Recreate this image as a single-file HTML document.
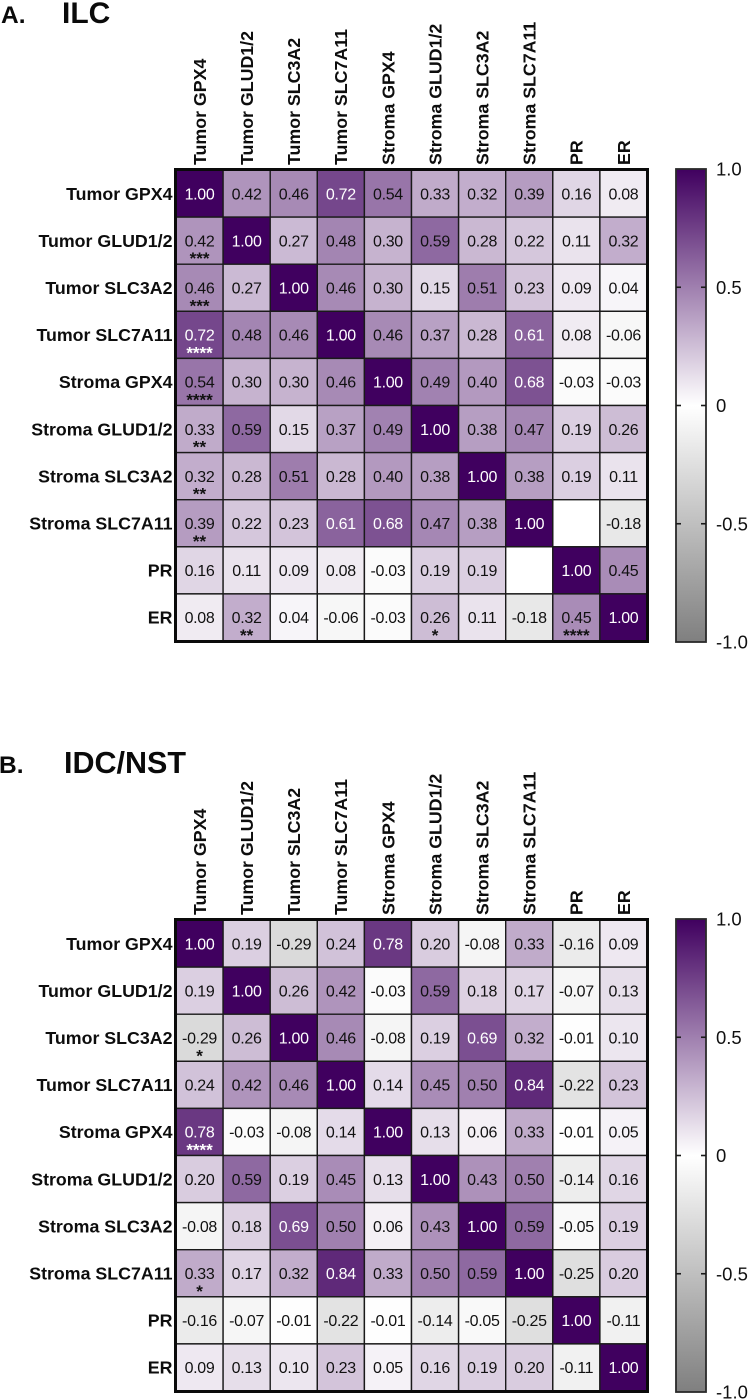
<!DOCTYPE html>
<html>
<head>
<meta charset="utf-8">
<style>
html,body{margin:0;padding:0;background:#fff;}
body{width:750px;height:1399px;overflow:hidden;}
svg{display:block;font-family:"Liberation Sans",Arial,sans-serif;filter:blur(0.3px);}
</style>
</head>
<body>
<svg id="figure" width="750" height="1399" viewBox="0 0 750 1399" xmlns="http://www.w3.org/2000/svg">
  <defs>
    <linearGradient id="cbar-gradient" x1="0" y1="0" x2="0" y2="1">
      <stop offset="0" stop-color="#40005f"/>
      <stop offset="0.5" stop-color="#ffffff"/>
      <stop offset="1" stop-color="#7f7f7f"/>
    </linearGradient>
  </defs>
</svg>
<script>
const labels = ["Tumor GPX4","Tumor GLUD1/2","Tumor SLC3A2","Tumor SLC7A11","Stroma GPX4","Stroma GLUD1/2","Stroma SLC3A2","Stroma SLC7A11","PR","ER"];

const ilcValues = [
  [1.00,0.42,0.46,0.72,0.54,0.33,0.32,0.39,0.16,0.08],
  [0.42,1.00,0.27,0.48,0.30,0.59,0.28,0.22,0.11,0.32],
  [0.46,0.27,1.00,0.46,0.30,0.15,0.51,0.23,0.09,0.04],
  [0.72,0.48,0.46,1.00,0.46,0.37,0.28,0.61,0.08,-0.06],
  [0.54,0.30,0.30,0.46,1.00,0.49,0.40,0.68,-0.03,-0.03],
  [0.33,0.59,0.15,0.37,0.49,1.00,0.38,0.47,0.19,0.26],
  [0.32,0.28,0.51,0.28,0.40,0.38,1.00,0.38,0.19,0.11],
  [0.39,0.22,0.23,0.61,0.68,0.47,0.38,1.00,null,-0.18],
  [0.16,0.11,0.09,0.08,-0.03,0.19,0.19,null,1.00,0.45],
  [0.08,0.32,0.04,-0.06,-0.03,0.26,0.11,-0.18,0.45,1.00]
];
const ilcStars = [
  ["","","","","","","","","",""],
  ["***","","","","","","","","",""],
  ["***","","","","","","","","",""],
  ["****","","","","","","","","",""],
  ["****","","","","","","","","",""],
  ["**","","","","","","","","",""],
  ["**","","","","","","","","",""],
  ["**","","","","","","","","",""],
  ["","","","","","","","","",""],
  ["","**","","","","*","","","****",""]
];
const idcValues = [
  [1.00,0.19,-0.29,0.24,0.78,0.20,-0.08,0.33,-0.16,0.09],
  [0.19,1.00,0.26,0.42,-0.03,0.59,0.18,0.17,-0.07,0.13],
  [-0.29,0.26,1.00,0.46,-0.08,0.19,0.69,0.32,-0.01,0.10],
  [0.24,0.42,0.46,1.00,0.14,0.45,0.50,0.84,-0.22,0.23],
  [0.78,-0.03,-0.08,0.14,1.00,0.13,0.06,0.33,-0.01,0.05],
  [0.20,0.59,0.19,0.45,0.13,1.00,0.43,0.50,-0.14,0.16],
  [-0.08,0.18,0.69,0.50,0.06,0.43,1.00,0.59,-0.05,0.19],
  [0.33,0.17,0.32,0.84,0.33,0.50,0.59,1.00,-0.25,0.20],
  [-0.16,-0.07,-0.01,-0.22,-0.01,-0.14,-0.05,-0.25,1.00,-0.11],
  [0.09,0.13,0.10,0.23,0.05,0.16,0.19,0.20,-0.11,1.00]
];
const idcStars = [
  ["","","","","","","","","",""],
  ["","","","","","","","","",""],
  ["*","","","","","","","","",""],
  ["","","","","","","","","",""],
  ["****","","","","","","","","",""],
  ["","","","","","","","","",""],
  ["","","","","","","","","",""],
  ["*","","","","","","","","",""],
  ["","","","","","","","","",""],
  ["","","","","","","","","",""]
];
const colorbarTicks = [1, 0.5, 0, -0.5, -1];
const colorbarTickLabels = ["1.0","0.5","0","-0.5","-1.0"];

const NS = "http://www.w3.org/2000/svg";
const figure = document.getElementById("figure");

function make(parent, tag, attrs, text) {
  const el = document.createElementNS(NS, tag);
  for (const k in attrs) el.setAttribute(k, attrs[k]);
  if (text !== undefined) el.textContent = text;
  parent.appendChild(el);
  return el;
}

function cellColor(v) {
  const hi = [64, 0, 95], mid = [255, 255, 255], lo = [127, 127, 127];
  const end = v >= 0 ? hi : lo;
  const t = Math.min(1, Math.abs(v));
  const c = mid.map((m, i) => Math.round(m + (end[i] - m) * t));
  return "rgb(" + c.join(",") + ")";
}

function drawPanel(panelName, values, stars, opt) {
  const g = make(figure, "g", {});
  
  

  const letter = make(g, "text", {x: opt.letterX, y: opt.titleY, "font-size": 24.5, "font-weight": "bold", fill: "#0a0a0a"}, opt.letter);
  
  

  const title = make(g, "text", {x: opt.titleX, y: opt.titleY, "font-size": opt.titleSize, "font-weight": "bold", fill: "#0a0a0a"}, opt.title);
  
  

  const left = 176, top = opt.top, size = 471, n = labels.length;
  const cell = size / n;
  const xAt = i => left + i * cell;
  const yAt = i => top + i * cell;

  values.forEach((row, r) => {
    const rowLabel = make(g, "text", {x: 172.5, y: yAt(r) + cell / 2 + 6.2, "text-anchor": "end", "font-size": 17.8, "font-weight": "bold", fill: "#0d0d0d"}, labels[r]);
    
    

    const colX = xAt(r) + cell / 2 + 6.3;
    const colLabel = make(g, "text", {x: colX, y: top - 5, "text-anchor": "start", "font-size": 17.8, "font-weight": "bold", fill: "#0d0d0d", transform: "rotate(-90 " + colX + " " + (top - 5) + ")"}, labels[r]);
    
    

    row.forEach((v, c) => {
      const fill = v === null ? "#ffffff" : cellColor(v);
      const rect = make(g, "rect", {x: xAt(c), y: yAt(r), width: cell, height: cell, fill: fill, stroke: "#1a1a1a", "stroke-width": 1.4});
      
      
      if (v === null) return;
      const ink = v >= 0.6 ? "#ffffff" : "#111111";
      const val = make(g, "text", {x: xAt(c) + cell / 2, y: yAt(r) + cell / 2 + 5.7, "text-anchor": "middle", "font-size": 16, "letter-spacing": -0.3, fill: ink}, v.toFixed(2));
      
      
      const s = stars[r][c];
      if (s) {
        const st = make(g, "text", {x: xAt(c) + cell / 2, y: yAt(r) + cell / 2 + 23.5, "text-anchor": "middle", "font-size": 17, "font-weight": "bold", fill: ink}, s);
        
        
      }
    });
  });

  const frame = make(g, "rect", {x: left - 0.5, y: top - 0.5, width: size + 1, height: size + 1, fill: "none", stroke: "#0a0a0a", "stroke-width": 3});
  
  

  const barX = 676, barW = 30, barTop = top - 1, barH = size + 2;
  const barY = v => barTop + (1 - v) / 2 * barH;
  const bar = make(g, "rect", {x: barX, y: barTop, width: barW, height: barH, fill: "url(#cbar-gradient)", stroke: "#2a2a2a", "stroke-width": 1.8});
  
  

  colorbarTicks.forEach((t, i) => {
    const y = barY(t);
    if (t !== 1 && t !== -1) {
      const tl = make(g, "line", {x1: barX, x2: barX + 5, y1: y, y2: y, stroke: "#1a1a1a", "stroke-width": 1.6});
      
      
      const tr = make(g, "line", {x1: barX + barW - 5, x2: barX + barW, y1: y, y2: y, stroke: "#1a1a1a", "stroke-width": 1.6});
      
      
    }
    const lab = make(g, "text", {x: 716, y: y + 6.5, "font-size": 18.5, fill: "#111111"}, colorbarTickLabels[i]);
    
    
  });
}

drawPanel("ilc-panel", ilcValues, ilcStars, {letter: "A.", letterX: 1, title: "ILC", titleX: 62, titleY: 23, titleSize: 30, top: 170});
drawPanel("idc-nst-panel", idcValues, idcStars, {letter: "B.", letterX: -1, title: "IDC/NST", titleX: 64, titleY: 773, titleSize: 30.5, top: 920});
</script>
</body>
</html>
